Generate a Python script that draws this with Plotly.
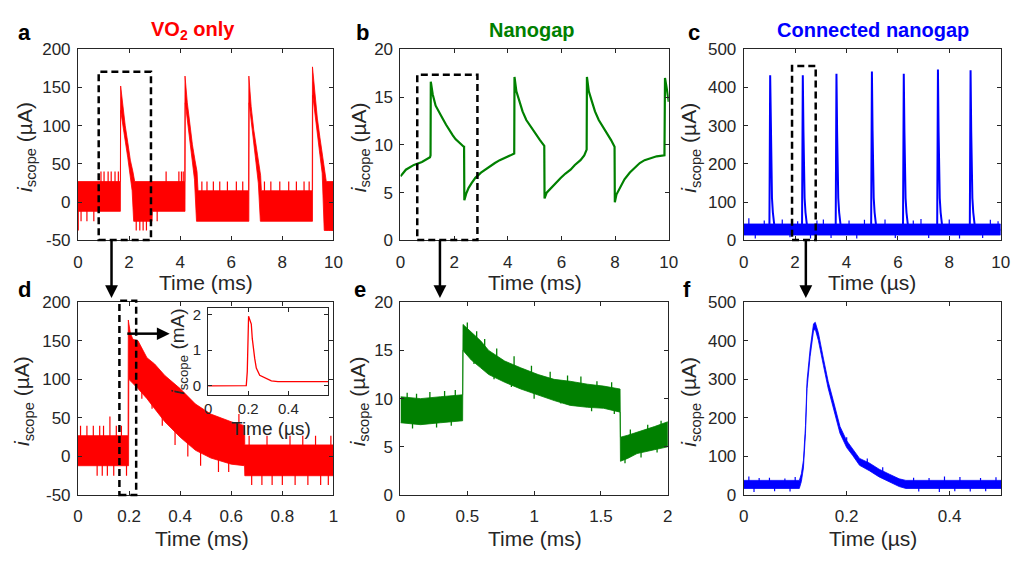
import plotly.graph_objects as go

W, H = 1019, 563
FONT = "Liberation Sans, Arial, sans-serif"
RED, GREEN, BLUE = "#FF0000", "#008000", "#0000FF"

# ---------------- data ----------------
# (a) VO2 only: noisy band, upper and lower envelopes (time ms, current uA)
a_up_t = [0, 1.66, 1.67, 1.75, 1.85, 1.95, 2.05, 2.15, 2.22, 4.18, 4.19, 4.28, 4.38, 4.48, 4.58, 4.66, 4.70,
          6.68, 6.69, 6.78, 6.88, 6.98, 7.08, 7.15, 7.18, 9.17, 9.18, 9.27, 9.37, 9.47, 9.57, 9.66, 9.72, 10]
a_up = [27, 27, 152, 125, 100, 78, 55, 40, 27, 27, 165, 130, 100, 75, 55, 40, 15,
        15, 165, 125, 95, 70, 50, 35, 15, 15, 177, 140, 110, 85, 60, 40, 27, 27]
a_lo_t = [0, 1.66, 1.67, 1.75, 1.85, 1.95, 2.05, 2.12, 2.18, 2.9, 2.91, 4.19, 4.20, 4.28, 4.38, 4.48, 4.56, 4.64,
          6.69, 6.70, 6.78, 6.88, 6.98, 7.06, 7.14, 9.18, 9.19, 9.27, 9.37, 9.47, 9.56, 9.64, 10]
a_lo = [-12, -12, 120, 105, 80, 58, 35, 15, -25, -25, -12, -12, 130, 108, 78, 52, 30, -25,
        -25, 130, 102, 72, 48, 25, -25, -25, 140, 118, 88, 62, 38, -37, -37]
a_spk_t = [0.01, 0.12, 0.35, 0.62, 0.9, 1.02, 1.18, 1.3, 1.45, 1.58, 2.28, 2.42, 2.55, 2.68, 2.8, 3.1, 3.45,
           3.95, 4.05, 4.12, 4.85, 5.05, 5.3, 5.55, 5.85, 6.2, 6.45, 7.3, 7.55, 7.9, 8.25, 8.55, 8.85, 9.05,
           9.75, 9.85, 9.95]
a_spk_v = [-37, -25, -25, -25, 40, 40, 40, 40, 40, 40, -37, -37, -37, -37, -25, -25, 40,
           40, 40, 40, 27, 27, 27, 27, 27, 27, 27, 27, 27, 27, 27, 27, 27, 27,
           -37, -37, -37]
a_base = 5

# (b) Nanogap (time ms, current uA)
b_t = [0.0, 0.2, 0.5, 0.8, 1.1, 1.12, 1.13, 1.2, 1.31, 1.45, 1.56, 1.7, 1.8, 1.95, 2.05, 2.2, 2.36, 2.37, 2.38,
       2.45, 2.54, 2.65, 2.79, 3.0, 3.15, 3.35, 3.52, 3.7, 3.89, 4.1, 4.24, 4.25, 4.32, 4.44, 4.55, 4.69,
       4.85, 4.99, 5.2, 5.36, 5.37, 5.45, 5.61, 5.8, 5.98, 6.15, 6.34, 6.5, 6.71, 6.85, 6.94, 6.95, 7.02,
       7.14, 7.25, 7.39, 7.55, 7.69, 7.85, 7.98, 7.99, 8.05, 8.18, 8.35, 8.55, 8.72, 8.92, 9.1, 9.29, 9.55,
       9.84, 9.86, 9.93, 10.0]
b_v = [6.7, 7.4, 7.9, 8.2, 8.7, 8.9, 16.6, 15.3, 14.1, 13.3, 12.8, 12.1, 11.6, 11.0, 10.6, 10.2, 9.8, 9.9, 4.2,
       4.9, 5.5, 6.0, 6.55, 7.1, 7.4, 7.8, 8.1, 8.4, 8.6, 8.9, 9.1, 17.1, 15.6, 14.5, 13.5, 12.6,
       11.9, 11.3, 10.5, 9.9, 4.4, 5.0, 5.5, 6.1, 6.55, 7.0, 7.4, 7.9, 8.4, 8.9, 9.5, 17.1, 15.6,
       14.5, 13.5, 12.6, 11.9, 11.3, 10.5, 9.8, 4.0, 4.8, 5.5, 6.4, 7.1, 7.6, 8.1, 8.4, 8.6, 8.8,
       8.9, 17.0, 15.8, 14.5]

# (c) Connected nanogap (time us, current uA)
c_t = [0,
       1.00, 1.03, 1.055, 1.08, 1.10, 1.135, 1.175, 1.21,
       2.27, 2.30, 2.325, 2.35, 2.37, 2.405, 2.445, 2.48,
       3.58, 3.61, 3.635, 3.66, 3.68, 3.715, 3.755, 3.79,
       4.96, 4.99, 5.015, 5.04, 5.06, 5.095, 5.135, 5.17,
       6.20, 6.23, 6.255, 6.28, 6.30, 6.335, 6.375, 6.41,
       7.53, 7.56, 7.585, 7.61, 7.63, 7.665, 7.705, 7.74,
       8.80, 8.83, 8.855, 8.88, 8.90, 8.935, 8.975, 9.01,
       10]
c_v = [28,
       28, 432, 286, 165, 111, 73, 44, 28,
       28, 432, 286, 165, 111, 73, 44, 28,
       28, 436, 286, 165, 111, 73, 44, 28,
       28, 442, 286, 165, 111, 73, 44, 28,
       28, 436, 286, 165, 111, 73, 44, 28,
       28, 447, 286, 165, 111, 73, 44, 28,
       28, 445, 286, 165, 111, 73, 44, 28,
       28]
c_band_t = [0, 10]
c_band_hi = [43, 43]
c_band_lo = [14, 14]
c_spk_t = [0.2, 0.45, 0.8, 1.5, 1.8, 2.1, 2.6, 2.85, 3.1, 3.4, 4.1, 4.4, 4.7, 5.5, 5.9, 6.6, 6.9, 7.2, 8.0, 8.4,
           9.3, 9.6, 9.9]
c_spk_v = [58, 5, 52, 55, 8, 50, 5, 52, 55, 6, 52, 5, 54, 55, 6, 52, 56, 6, 55, 5, 6, 54, 50]
c_base = 28

# (d) VO2 only, zoom (time ms, current uA)
d_up_t = [0, 0.196, 0.197, 0.205, 0.215, 0.235, 0.27, 0.30, 0.34, 0.40, 0.46, 0.52, 0.60, 0.652, 0.653, 1.0]
d_up = [27, 27, 177, 160, 152, 150, 128, 120, 105, 88, 68, 55, 45, 40, 15, 15]
d_lo_t = [0, 0.198, 0.199, 0.235, 0.27, 0.30, 0.34, 0.40, 0.46, 0.52, 0.60, 0.652, 0.653, 1.0]
d_lo = [-12, -12, 100, 88, 75, 62, 45, 25, 8, -2, -10, -12, -25, -25]
d_spk_t = [0.01, 0.035, 0.06, 0.085, 0.1, 0.125, 0.15, 0.17, 0.075, 0.095, 0.115, 0.14, 0.19,
           0.68, 0.72, 0.76, 0.8, 0.85, 0.9, 0.95, 0.98, 0.67, 0.74, 0.83, 0.88, 0.93, 0.99,
           0.25, 0.29, 0.33, 0.38, 0.43, 0.48, 0.55, 0.59, 0.63]
d_spk_v = [40, 40, 40, 40, 40, 52, 40, 40, -25, -25, -25, -25, -25,
           -37, -37, -37, -37, -37, -37, -37, -37, 27, 27, 27, 27, 27, 27,
           75, 62, 40, 15, 0, -12, -20, -20, 55]
d_spk_base = [5] * 27 + [110, 100, 80, 60, 40, 30, 15, 10, 20]

# (d inset) (time us, current mA)
ins_t = [0, 0.19, 0.195, 0.2015, 0.215, 0.22, 0.232, 0.24, 0.257, 0.282, 0.315, 0.348, 0.6]
ins_v = [0.0, 0.01, 0.4, 1.95, 1.73, 1.32, 0.77, 0.5, 0.3, 0.23, 0.14, 0.12, 0.12]

# (e) Nanogap zoom (time ms, current uA): noisy band
e_t = [0.00, 0.15, 0.30, 0.465, 0.468, 0.53, 0.60, 0.66, 0.78, 0.90, 1.03, 1.15, 1.27, 1.40, 1.52, 1.643,
       1.646, 1.70, 1.77, 1.90, 2.00]
e_lo = [7.5, 7.3, 7.5, 7.7, 15.0, 14.0, 13.2, 12.5, 11.7, 11.0, 10.4, 9.8, 9.3, 9.1, 9.0, 8.6,
        3.5, 3.8, 4.3, 4.7, 5.0]
e_hi = [10.2, 10.0, 10.2, 10.4, 17.7, 16.9, 16.0, 15.0, 13.9, 13.2, 12.5, 12.0, 11.8, 11.5, 11.3, 11.0,
        6.0, 6.2, 6.5, 7.1, 7.6]
e_spk_t = [0.05, 0.12, 0.22, 0.33, 0.41, 0.09, 0.27, 0.38, 0.5, 0.57, 0.63, 0.72, 0.85, 0.98, 1.12, 1.25,
           1.35, 1.47, 1.58, 0.55, 0.7, 0.83, 1.0, 1.2, 1.43, 1.6, 1.72, 1.85, 1.95, 1.68, 1.8, 1.92]
e_spk_v = [10.6, 10.5, 10.7, 10.8, 10.9, 6.9, 7.0, 7.2, 17.9, 17.0, 16.2, 15.2, 14.4, 13.4, 12.8, 12.4,
           12.3, 11.8, 11.7, 13.6, 12.0, 11.2, 10.0, 9.5, 8.7, 8.4, 6.8, 7.3, 7.7, 3.3, 3.9, 4.4]
e_spk_base = [9, 9, 9, 9, 9, 8.5, 8.5, 8.5, 16, 15, 14.5, 13.5, 12.8, 11.8, 11.2, 10.8,
              10.5, 10.2, 10, 15, 13.5, 12.5, 11.5, 10.8, 10.2, 9.8, 5.2, 5.6, 6, 5, 5.4, 5.8]

# (f) Connected nanogap zoom (time us, current uA): noisy band
f_t = [0.0, 0.108, 0.112, 0.116, 0.120, 0.123, 0.129, 0.1356, 0.139, 0.145, 0.155, 0.164, 0.174, 0.187,
       0.200, 0.212, 0.225, 0.244, 0.263, 0.283, 0.302, 0.315, 0.5]
f_lo = [17, 17, 35, 70, 160, 276, 359, 426, 430, 401, 335, 277, 227, 160,
        123, 102, 77, 63, 47, 34, 22, 17, 17]
f_hi = [38, 38, 55, 90, 180, 296, 379, 444, 448, 421, 353, 295, 245, 178,
        141, 120, 95, 83, 67, 54, 42, 38, 38]
f_spk_t = [0.01, 0.03, 0.05, 0.08, 0.1, 0.02, 0.06, 0.09, 0.33, 0.36, 0.39, 0.42, 0.46, 0.49,
           0.34, 0.38, 0.41, 0.44, 0.47, 0.2, 0.24, 0.27]
f_spk_v = [48, 44, 45, 43, 47, 8, 10, 9, 45, 44, 48, 47, 44, 46, 9, 8, 10, 9, 10, 150, 95, 72]
f_spk_base = [27] * 19 + [130, 80, 60]

# tick labels
ticks_a_x = [0, 2, 4, 6, 8, 10]
ticks_a_y = [-50, 0, 50, 100, 150, 200]
ticks_b_y = [0, 5, 10, 15, 20]
ticks_c_y = [0, 100, 200, 300, 400, 500]
ticks_d_x = [0, 0.2, 0.4, 0.6, 0.8, 1]
ticks_e_x = [0, 0.5, 1, 1.5, 2]
ticks_f_x = [0, 0.2, 0.4]
ticks_in_x = [0, 0.2, 0.4]
ticks_in_y = [0, 1, 2]


def lab(v):
    return "%g" % v


def px(x):
    return x / W


def py(y):
    return 1 - y / H


fig = go.Figure()


def band(xs_up, ys_up, xs_lo, ys_lo, color, ax):
    fig.add_trace(go.Scatter(x=list(xs_up) + list(xs_lo)[::-1], y=list(ys_up) + list(ys_lo)[::-1],
                             fill="toself", fillcolor=color, mode="lines",
                             line=dict(color=color, width=0.8), xaxis="x" + ax, yaxis="y" + ax,
                             hoverinfo="skip", showlegend=False))


def spikes(ts, vs, bases, color, ax, width=1.2):
    xs, ys = [], []
    for t, v, b in zip(ts, vs, bases):
        xs += [t, t, None]
        ys += [b, v, None]
    fig.add_trace(go.Scatter(x=xs, y=ys, mode="lines", line=dict(color=color, width=width),
                             xaxis="x" + ax, yaxis="y" + ax, hoverinfo="skip", showlegend=False))


# a
band(a_up_t, a_up, a_lo_t, a_lo, RED, "")
spikes(a_spk_t, a_spk_v, [a_base] * len(a_spk_t), RED, "")
# b
fig.add_trace(go.Scatter(x=b_t, y=b_v, mode="lines", line=dict(color=GREEN, width=2.2),
                         xaxis="x2", yaxis="y2", showlegend=False))
# c
band(c_band_t, c_band_hi, c_band_t, c_band_lo, BLUE, "3")
spikes(c_spk_t, c_spk_v, [c_base] * len(c_spk_t), BLUE, "3")
fig.add_trace(go.Scatter(x=c_t, y=c_v, mode="lines", line=dict(color=BLUE, width=2),
                         xaxis="x3", yaxis="y3", showlegend=False))
# d
band(d_up_t, d_up, d_lo_t, d_lo, RED, "4")
spikes(d_spk_t, d_spk_v, d_spk_base, RED, "4")
# e
band(e_t, e_hi, e_t, e_lo, GREEN, "5")
spikes(e_spk_t, e_spk_v, e_spk_base, GREEN, "5", 1.3)
# f
band(f_t, f_hi, f_t, f_lo, BLUE, "6")
spikes(f_spk_t, f_spk_v, f_spk_base, BLUE, "6", 1.2)
# inset
fig.add_trace(go.Scatter(x=ins_t, y=ins_v, mode="lines", line=dict(color=RED, width=1.3),
                         xaxis="x7", yaxis="y7", showlegend=False))

# ---------------- axes ----------------
AXC = "#262626"


def axis(dom, rng, tv, anchor, size=17, standoff=None):
    d = dict(domain=dom, range=rng, anchor=anchor, showline=True, linecolor=AXC, linewidth=1,
             mirror="ticks", ticks="inside", ticklen=4, tickwidth=1, tickcolor=AXC,
             showgrid=False, zeroline=False, tickmode="array", tickvals=tv,
             ticktext=[lab(v) for v in tv], tickfont=dict(size=size, color=AXC, family=FONT),
             fixedrange=True)
    if standoff is not None:
        d["ticklabelstandoff"] = standoff
    return d


panels = {
    "": ((74, 333, 41.7, 239.5), [0, 10], [-50, 200], ticks_a_x, ticks_a_y),
    "2": ((401, 673, 41.7, 239.5), [0, 10], [0, 20], ticks_a_x, ticks_b_y),
    "3": ((749, 1009.5, 41.7, 239.5), [0, 10], [0, 500], ticks_a_x, ticks_c_y),
    "4": ((74, 333, 303.5, 503), [0, 1], [-50, 200], ticks_d_x, ticks_a_y),
    "5": ((401, 672, 303.5, 503), [0, 2], [0, 20], ticks_e_x, ticks_b_y),
    "6": ((749, 1010, 303.5, 503), [0, 0.5], [0, 500], ticks_f_x, ticks_c_y),
    "7": ((206, 328, 309, 399), [0, 0.6], [-0.24, 2.19], ticks_in_x, ticks_in_y),
}
lay = {}
for k, (box, xr, yr, xt, yt) in panels.items():
    x0, x1, y0, y1 = box
    fs = 15 if k == "7" else 17
    lay["xaxis" + k] = axis([px(x0), px(x1)], xr, xt, "y" + k, fs, 6 if k != "7" else 0)
    lay["yaxis" + k] = axis([py(y1), py(y0)], yr, yt, "x" + k, fs, 3)

# ---------------- annotations ----------------
ann = []


def text(x, y, s, size, color=AXC, bold=False, angle=0):
    ann.append(dict(x=px(x), y=py(y), xref="paper", yref="paper", text=("<b>%s</b>" % s) if bold else s,
                    showarrow=False, xanchor="center", yanchor="middle", textangle=angle,
                    font=dict(size=size, color=color, family=FONT)))


text(20, 24, "a", 22, "black", True)
text(362, 24, "b", 22, "black", True)
text(699, 24, "c", 22, "black", True)
text(20, 290, "d", 22, "black", True)
text(360, 290, "e", 22, "black", True)
text(691, 290, "f", 22, "black", True)
text(191, 22, "VO<sub>2</sub> only", 20, RED, True)
text(534, 22, "Nanogap", 20, GREEN, True)
text(880, 22, "Connected nanogap", 20, BLUE, True)

ytitle = "<i>i</i><sub>scope</sub> (µA)"
for (x, yc) in [(21, 143), (360, 143), (695, 143), (19, 406), (359, 406), (695, 406)]:
    text(x, yc, ytitle, 21, AXC, False, -90)
text(176, 355, "<i>i</i><sub>scope</sub> (mA)", 19, AXC, False, -90)

for (xc, yc, s) in [(203.5, 283, "Time (ms)"), (537, 283, "Time (ms)"), (879, 283, "Time (µs)"),
                    (200, 548, "Time (ms)"), (537, 548, "Time (ms)"), (880, 548, "Time (µs)")]:
    text(xc, yc, s, 21)
text(270, 434, "Time (µs)", 19)

# ---------------- shapes: dashed boxes and arrows ----------------
shapes = []
for (x0, x1, y0, y1) in [(95, 148, 65, 239), (418, 479, 68, 239), (798, 822, 59, 239), (116, 133, 302, 503)]:
    shapes.append(dict(type="rect", xref="paper", yref="paper", x0=px(x0), x1=px(x1), y0=py(y1), y1=py(y0),
                       line=dict(color="black", width=2.5, dash="7px,4px"), layer="above"))


def vline_arrow(x, y0, y1):
    shapes.append(dict(type="line", xref="paper", yref="paper", x0=px(x), x1=px(x), y0=py(y0), y1=py(y1 - 10),
                       line=dict(color="black", width=2.5), layer="above"))
    p = "M %f,%f L %f,%f L %f,%f Z" % (px(x - 6.5), py(y1 - 13), px(x + 6.5), py(y1 - 13), px(x), py(y1))
    shapes.append(dict(type="path", xref="paper", yref="paper", path=p, fillcolor="black",
                       line=dict(width=0), layer="above"))


vline_arrow(108, 239, 299)
vline_arrow(441, 239, 299)
vline_arrow(812, 239, 299)
# horizontal arrow in d
shapes.append(dict(type="line", xref="paper", yref="paper", x0=px(124), x1=px(156), y0=py(336), y1=py(336),
                   line=dict(color="black", width=2.5), layer="above"))
shapes.append(dict(type="path", xref="paper", yref="paper",
                   path="M %f,%f L %f,%f L %f,%f Z" % (px(154), py(329.5), px(154), py(342.5), px(167), py(336)),
                   fillcolor="black", line=dict(width=0), layer="above"))

fig.update_layout(width=W, height=H, autosize=False, margin=dict(l=0, r=0, t=0, b=0),
                  paper_bgcolor="white", plot_bgcolor="white", showlegend=False,
                  annotations=ann, shapes=shapes, font=dict(family=FONT), **lay)

fig.write_html("out.html")
